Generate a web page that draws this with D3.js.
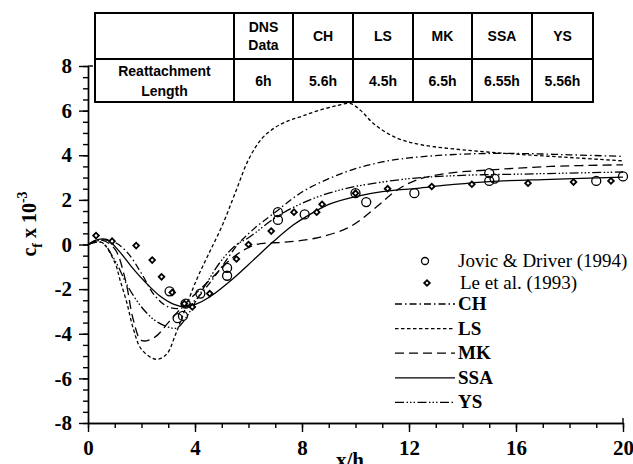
<!DOCTYPE html>
<html>
<head>
<meta charset="utf-8">
<script src="https://cdn.jsdelivr.net/npm/d3@7"></script>
<style>
  body { margin: 0; background: #fff; }
  svg { display: block; }
  .tick line, .domain { stroke: #000; stroke-width: 1.4; }
  .tick text { font-family: "Liberation Serif", "Times New Roman", serif; font-weight: bold; font-size: 21px; fill: #000; }
  .tbl text { font-family: "Liberation Sans", Arial, sans-serif; font-weight: bold; font-size: 14px; fill: #000; }
  .leg text { font-family: "Liberation Serif", "Times New Roman", serif; font-size: 19px; fill: #000; }
</style>
</head>
<body>
<script>
// table contents
var tableHeads = [["DNS", "Data"], ["CH"], ["LS"], ["MK"], ["SSA"], ["YS"]];
var tableVals = ["6h", "5.6h", "4.5h", "6.5h", "6.55h", "5.56h"];
var rowLabel = ["Reattachment", "Length"];

// axes
var xTicks = [0, 4, 8, 12, 16, 20];
var yTicks = [-8, -6, -4, -2, 0, 2, 4, 6, 8];

// experiments
var jovic = [[3.05,-2.1],[3.35,-3.3],[3.55,-3.2],[3.65,-2.65],[4.2,-2.2],[5.2,-1.05],[5.2,-1.4],
  [7.1,1.45],[7.1,1.1],[8.1,1.35],[10.0,2.3],[10.4,1.9],[12.2,2.3],[15.0,3.2],[15.0,2.85],
  [15.2,2.95],[19.0,2.85],[20.0,3.05]];
var le = [[0.3,0.4],[0.9,0.15],[1.8,-0.05],[2.4,-0.7],[2.75,-1.45],[3.15,-2.15],[3.6,-2.65],
  [3.9,-2.8],[4.55,-2.2],[5.55,-0.65],[6.0,0.0],[6.85,0.6],[7.7,1.45],[8.55,1.45],[8.75,1.8],
  [10.0,2.3],[11.2,2.5],[12.85,2.6],[14.35,2.7],[16.45,2.75],[18.15,2.8],[19.55,2.85]];

// models
var ch = [[0,0],[0.5,0.2],[1,0.1],[1.5,-0.4],[2,-1.3],[2.5,-2.3],[3,-2.8],[3.5,-2.85],[4,-2.5],
  [4.5,-1.8],[5,-1.0],[5.6,0.0],[6.2,0.7],[7,1.45],[8,2.35],[9,2.95],[10,3.4],[11,3.7],
  [12,3.88],[14,4.05],[16,4.08],[18,4.02],[20,3.95]];
var ls = [[0,0],[0.5,0.1],[1,-0.8],[1.2,-1.6],[1.45,-2.6],[1.7,-3.8],[2.0,-4.7],[2.55,-5.15],
  [2.95,-4.9],[3.25,-4.1],[3.6,-3.0],[4.05,-1.6],[4.5,-0.45],[5.0,0.8],[5.5,2.3],[6.0,3.8],
  [6.5,4.75],[7.0,5.25],[7.5,5.55],[8.0,5.75],[8.6,6.0],[9.3,6.22],[9.8,6.32],[10.2,6.0],[10.6,5.5],
  [11.1,5.05],[11.7,4.7],[12.5,4.46],[14.2,4.22],[16,4.05],[18,3.9],[20,3.75]];
var mk = [[0,0],[0.5,0.2],[1,-0.2],[1.4,-1.6],[1.7,-3.4],[2.0,-4.3],[2.5,-4.15],[3,-3.5],
  [3.6,-2.7],[4.2,-2.0],[4.8,-1.3],[5.5,-0.5],[6.3,0.0],[7.3,0.1],[8.5,0.28],[9.8,0.8],
  [10.8,1.7],[11.5,2.4],[12.3,2.9],[13.5,3.2],[15,3.34],[17.3,3.5],[20,3.57]];
var ssa = [[0,0],[0.3,0.2],[0.7,0.23],[1.13,-0.25],[1.63,-1.0],[2.13,-1.67],[2.69,-2.31],
  [3.19,-2.67],[3.62,-2.79],[4.04,-2.67],[4.56,-2.34],[5.43,-1.52],[6.18,-0.7],[6.93,0.13],
  [7.67,0.87],[8.3,1.35],[9,1.8],[10,2.15],[11,2.37],[12.3,2.52],[13.5,2.67],[15,2.82],
  [17.3,2.92],[20,3.02]];
var ys = [[0,0],[0.5,0.1],[1,-0.7],[1.5,-1.9],[2,-2.8],[2.5,-3.4],[3,-3.7],[3.3,-3.75],
  [3.6,-3.4],[4,-2.6],[4.5,-1.6],[5,-0.7],[5.56,0],[6,0.3],[7,1.2],[8,1.85],[9,2.3],[10,2.6],
  [12,2.95],[14,3.1],[16,3.15],[18,3.2],[20,3.25]];

var models = [
  {name: "CH", data: ch, dash: "7,3,1.5,3"},
  {name: "LS", data: ls, dash: "3.5,2.5"},
  {name: "MK", data: mk, dash: "9,5"},
  {name: "SSA", data: ssa, dash: null},
  {name: "YS", data: ys, dash: "9,2.5,1.5,2,1.5,2,1.5,2.5"}
];

var width = 633, height = 464;
var svg = d3.select("body").append("svg").attr("width", width).attr("height", height);

var x = d3.scaleLinear().domain([0, 20]).range([88, 623]);
var y = d3.scaleLinear().domain([-8, 8]).range([423, 66]);

// minor ticks
svg.append("g").attr("transform", "translate(0,423)")
  .call(d3.axisBottom(x).tickValues(d3.range(0, 21, 1)).tickSize(5).tickFormat("").tickSizeOuter(0));
svg.append("g").attr("transform", "translate(88,0)")
  .call(d3.axisLeft(y).tickValues(d3.range(-8, 8.01, 0.5)).tickSize(5).tickFormat("").tickSizeOuter(0));

// major ticks + labels
svg.append("g").attr("transform", "translate(0,423)")
  .call(d3.axisBottom(x).tickValues(xTicks).tickSize(9).tickPadding(8).tickSizeOuter(0));
svg.append("g").attr("transform", "translate(88,0)")
  .call(d3.axisLeft(y).tickValues(yTicks).tickSize(9).tickPadding(7).tickSizeOuter(0)
    .tickFormat(d => d < 0 ? "-" + Math.abs(d) : d));

// end caps
svg.append("line").attr("x1", x(20)).attr("x2", x(20)).attr("y1", y(-8)).attr("y2", y(-8) - 5)
  .attr("stroke", "#000").attr("stroke-width", 1.4);
svg.append("line").attr("x1", 88).attr("x2", 93).attr("y1", y(8)).attr("y2", y(8))
  .attr("stroke", "#000").attr("stroke-width", 1.4);

// axis titles
var yt = svg.append("text")
  .attr("transform", "translate(36,224) rotate(-90)")
  .attr("text-anchor", "middle")
  .style("font-family", "'Liberation Serif', serif").style("font-weight", "bold").style("font-size", "20px");
yt.append("tspan").text("c");
yt.append("tspan").attr("dy", 6).style("font-size", "14px").text("f");
yt.append("tspan").attr("dy", -6).text(" x 10");
yt.append("tspan").attr("dy", -9).style("font-size", "14px").text("-3");

svg.append("text").attr("x", 350).attr("y", 467).attr("text-anchor", "middle")
  .style("font-family", "'Liberation Serif', serif").style("font-weight", "bold").style("font-size", "21px")
  .text("x/h");

// curves
var line = d3.line().x(d => x(d[0])).y(d => y(d[1])).curve(d3.curveCatmullRom.alpha(0.5));
svg.append("g").selectAll("path").data(models).join("path")
  .attr("d", d => line(d.data))
  .attr("fill", "none").attr("stroke", "#000").attr("stroke-width", 1.3)
  .attr("stroke-dasharray", d => d.dash);

// markers
var diamond = d3.symbol().type(d3.symbolSquare).size(16);
svg.append("g").selectAll("path").data(le).join("path")
  .attr("transform", d => "translate(" + x(d[0]) + "," + y(d[1]) + ") rotate(45)")
  .attr("d", diamond).attr("fill", "#fff").attr("stroke", "#000").attr("stroke-width", 1.8);
svg.append("g").selectAll("circle").data(jovic).join("circle")
  .attr("cx", d => x(d[0])).attr("cy", d => y(d[1])).attr("r", 4.5)
  .attr("fill", "none").attr("stroke", "#000").attr("stroke-width", 1.3);

// legend
var leg = svg.append("g").attr("class", "leg");
leg.append("circle").attr("cx", 425).attr("cy", 261).attr("r", 3.5)
  .attr("fill", "none").attr("stroke", "#000").attr("stroke-width", 1.3);
leg.append("text").attr("x", 458).attr("y", 267).text("Jovic & Driver (1994)");
leg.append("path").attr("transform", "translate(427,283) rotate(45)").attr("d", diamond)
  .attr("fill", "#fff").attr("stroke", "#000").attr("stroke-width", 1.8);
leg.append("text").attr("x", 460).attr("y", 289).text("Le et al. (1993)");
models.forEach(function (m, i) {
  var yy = 304 + i * 24.6;
  leg.append("line").attr("x1", 395).attr("x2", 455).attr("y1", yy).attr("y2", yy)
    .attr("stroke", "#000").attr("stroke-width", 1.3).attr("stroke-dasharray", m.dash);
  leg.append("text").attr("x", 458).attr("y", yy + 6).style("font-weight", "bold").text(m.name);
});

// table
var colX = [95, 234, 293, 353, 413, 472, 532, 593];
var rowY = [13, 59, 102];
var tbl = svg.append("g").attr("class", "tbl");
tbl.append("rect").attr("x", colX[0]).attr("y", rowY[0])
  .attr("width", colX[7] - colX[0]).attr("height", rowY[2] - rowY[0])
  .attr("fill", "#fff").attr("stroke", "#000").attr("stroke-width", 2);
tbl.append("line").attr("x1", colX[0]).attr("x2", colX[7]).attr("y1", rowY[1]).attr("y2", rowY[1])
  .attr("stroke", "#000").attr("stroke-width", 2);
tbl.selectAll("line.v").data(colX.slice(1, 7)).join("line").attr("class", "v")
  .attr("x1", d => d).attr("x2", d => d).attr("y1", rowY[0]).attr("y2", rowY[2])
  .attr("stroke", "#000").attr("stroke-width", 2);

function cellText(lines, cx, cy, gap) {
  var t = tbl.append("text").attr("text-anchor", "middle");
  var n = lines.length;
  lines.forEach(function (s, k) {
    t.append("tspan").attr("x", cx).attr("y", cy + (k - (n - 1) / 2) * gap + 5).text(s);
  });
}
tableHeads.forEach(function (h, i) {
  cellText(h, (colX[i + 1] + colX[i + 2]) / 2, (rowY[0] + rowY[1]) / 2, 18);
  cellText([tableVals[i]], (colX[i + 1] + colX[i + 2]) / 2, (rowY[1] + rowY[2]) / 2, 18);
});
cellText(rowLabel, (colX[0] + colX[1]) / 2, (rowY[1] + rowY[2]) / 2, 20);
</script>
</body>
</html>
